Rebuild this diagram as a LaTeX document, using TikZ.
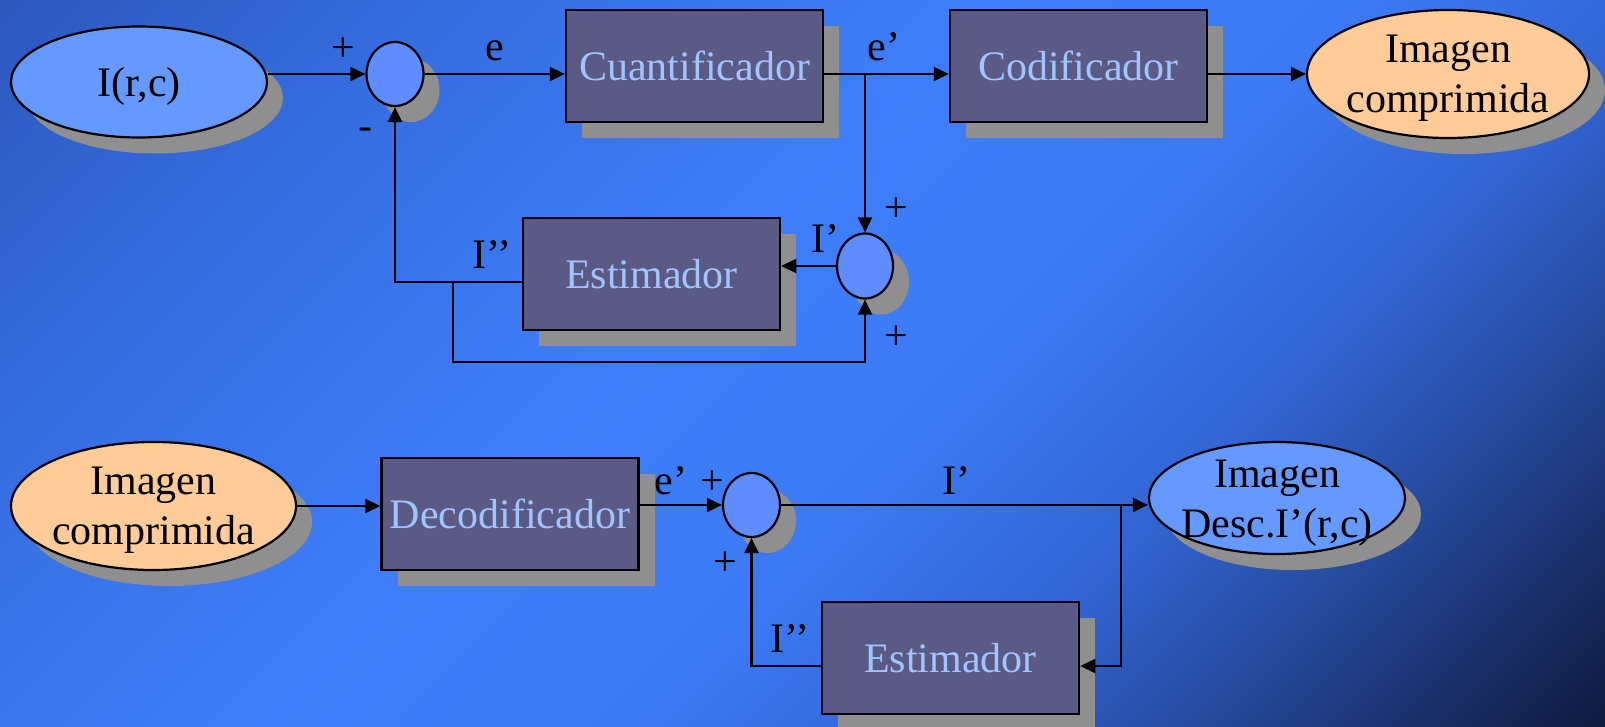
\documentclass[tikz,border=0pt]{standalone}
\usepackage{fontspec}
\setmainfont{Liberation Serif}
\usetikzlibrary{shapes.geometric,arrows.meta,shadows}

% palette
\definecolor{bgA}{RGB}{44,88,190}
\definecolor{bgA2}{RGB}{54,110,225}
\definecolor{bgB}{RGB}{62,126,250}
\definecolor{bgB2}{RGB}{60,122,245}
\definecolor{bgC}{RGB}{50,100,210}
\definecolor{bgD}{RGB}{36,70,150}
\definecolor{bgE}{RGB}{24,44,100}
\definecolor{bgF}{RGB}{16,26,62}
\definecolor{shgray}{RGB}{143,143,143}
\definecolor{boxfill}{RGB}{90,90,132}
\definecolor{boxtext}{RGB}{160,196,255}
\definecolor{lightblue}{RGB}{102,153,255}
\definecolor{sumblue}{RGB}{95,140,255}
\definecolor{peach}{RGB}{255,204,153}

\pgfdeclarehorizontalshading{bgshade}{100bp}{color(0bp)=(bgA); color(14.6bp)=(bgA); color(28.8bp)=(bgA2); color(44.3bp)=(bgB); color(55.7bp)=(bgB2); color(65.6bp)=(bgC); color(74.1bp)=(bgD); color(80.4bp)=(bgE); color(85.4bp)=(bgF); color(100bp)=(bgF)}

\begin{document}
\begin{tikzpicture}[x=1pt,y=-1pt,
  font=\fontsize{42}{50}\selectfont,
  wire/.style={line width=2.2pt},
  arr/.style={wire,-{Triangle[length=15pt,width=14pt]}},
  shadowed/.style={general shadow={fill=shgray,shadow xshift=16pt,shadow yshift=-16pt}},
  block/.style={shadowed,draw,line width=2.5pt,fill=boxfill,text=boxtext,
    minimum width=257pt,minimum height=112pt,inner sep=0pt},
  oval/.style={shadowed,ellipse,draw,line width=2.2pt,inner sep=0pt},
  sumnode/.style={oval,fill=sumblue,minimum width=57pt,minimum height=64pt},
  sign/.style={inner sep=0pt}
]
% backdrop
\useasboundingbox (0,0) rectangle (1605,727);
\shade[shading=bgshade,shading angle=-45] (0,0) rectangle (1605,727);

% ---- coder ----
\node[oval,fill=lightblue,minimum width=256pt,minimum height=111pt,
  label={[yshift=-4pt]center:I(r,c)}] (iin) at (139,82) {};
\node[sumnode] (s1) at (395,74) {};
\node[block] (cuant) at (694.5,66) {Cuantificador};
\node[block] (cod) at (1078.5,66) {Codificador};
\node[oval,fill=peach,minimum width=282pt,minimum height=128pt,
  label={[align=center,yshift=-4pt]center:Imagen\\comprimida}] (out1) at (1448,74) {};
\node[block] (est1) at (651.5,274) {Estimador};
\node[sumnode,minimum width=56pt,minimum height=65pt] (s2) at (865,266) {};

% ---- decoder ----
\node[oval,fill=peach,minimum width=285pt,minimum height=128pt,
  label={[align=center,yshift=-4pt]center:Imagen\\comprimida}] (in2) at (153.5,506) {};
\node[block] (dec) at (510,514) {Decodificador};
\node[sumnode] (s3) at (751.5,505) {};
\node[oval,fill=lightblue,minimum width=256pt,minimum height=112pt,
  label={[align=center,yshift=-5pt]center:Imagen\\Desc.I’(r,c)}] (out2) at (1277,498) {};
\node[block] (est2) at (950.5,658) {Estimador};

% signal names and signs
\node[sign] (p1) at (343,50) {+};
\node[sign] (lblE) at (495,51) {e};
\node[sign] (m1) at (365,134) {-};
\node[sign] (lblEp) at (884,47) {e’};
\node[sign] (p2) at (896,210) {+};
\node[sign] (p3) at (896,338) {+};
\node[sign] (lblI1) at (825,239) {I’};
\node[sign] (lblI2) at (492,255) {I’’};
\node[sign] (lblEp2) at (671,481) {e’};
\node[sign] (p4) at (712,483) {+};
\node[sign] (p5) at (725,564) {+};
\node[sign] (lblI3) at (956,481) {I’};
\node[sign] (lblI4) at (790,639) {I’’};

% ---- coder wiring ----
\draw[arr] (s1.west -| iin.east) -- (s1.west);
\draw[arr] (s1.east) -- (s1.east -| cuant.west);
\draw[arr] (s1.east -| cuant.east) -- (s1.east -| cod.west);
\draw[arr] (s1.east -| cod.east) -- (out1.west);
\coordinate (br1) at (s1.east -| s2.north);
\draw[arr] (br1) -- (s2.north);
\draw[arr] (s2.west) -- (s2.west -| est1.east);
\draw[arr] ([yshift=-8pt]est1.west) -| (s1.south);
\coordinate (j1) at (453,282);
\coordinate (j1low) at (453,362);
\draw[arr] (j1) -- (j1low) -| (s2.south);

% ---- decoder wiring ----
\draw[arr] (in2.east) -- (in2.east -| dec.west);
\draw[arr] (s3.west -| dec.east) -- (s3.west);
\draw[arr] (s3.east) -- (s3.east -| out2.west);
\coordinate (br2) at (1121,505);
\draw[arr] (br2) |- ([yshift=-8pt]est2.east);
\draw[arr] ([yshift=-8pt]est2.west) -| (s3.south);
\end{tikzpicture}
\end{document}
